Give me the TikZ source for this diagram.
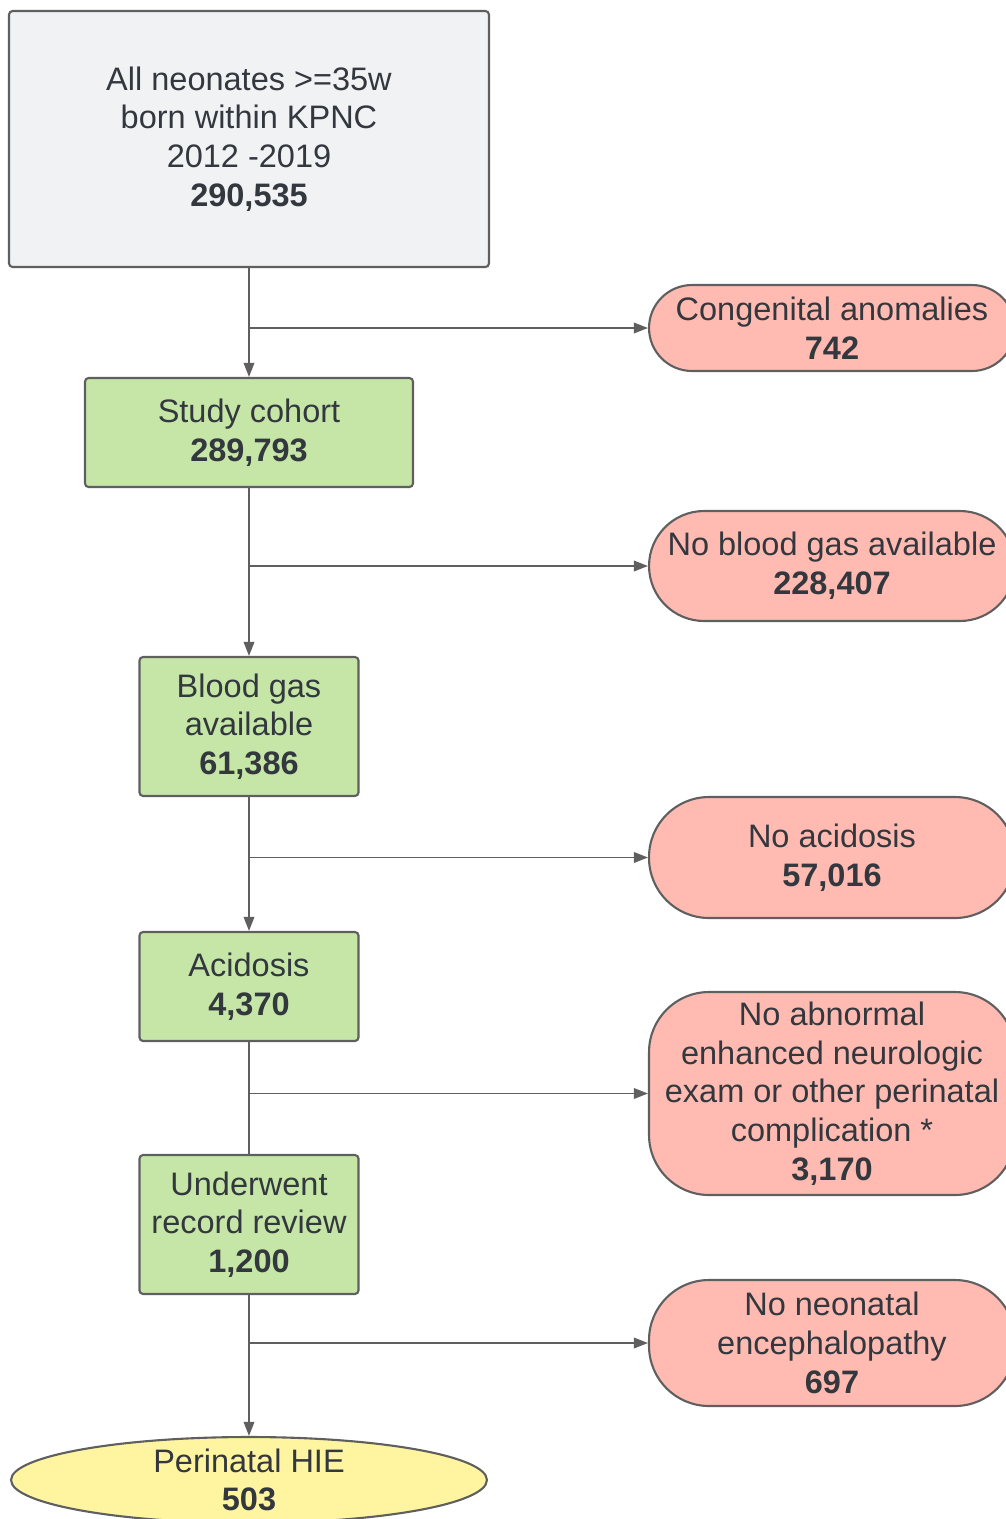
\documentclass[tikz,border=0pt]{standalone}
\usepackage{fontspec}
\setmainfont{Liberation Sans}
\usepackage{tikz}
\usepackage{xcolor}
\definecolor{boxgray}{RGB}{241,242,244}
\definecolor{boxgreen}{RGB}{197,230,166}
\definecolor{boxpink}{RGB}{255,187,177}
\definecolor{boxyellow}{RGB}{255,245,160}
\definecolor{edgegray}{RGB}{95,95,95}
\definecolor{textdark}{RGB}{51,56,62}
\usetikzlibrary{shapes.geometric,arrows.meta}

\tikzset{
	txt/.style={
		font=\fontsize{18.5}{22}\selectfont, % Lucid-like text size
		text=textdark,         % dark text
		align=center
	},
	stagebox/.style={
		txt,
		draw=edgegray,         % gray border
		line width=1.2pt,
		rectangle,
		rounded corners=2pt,   % slight rounding
		inner sep=2pt
	},
	excludebox/.style={
		txt,
		draw=edgegray,
		line width=1.2pt,
		fill=boxpink,          % pink fill
		rectangle,
		minimum width=7.32cm,
		inner sep=2pt
	},
	flow/.style={
		draw=edgegray,
		line width=1pt,
		-{Triangle[length=8pt,width=6pt]}
	}
}

\begin{document}
\begin{tikzpicture}[x=0.02cm,y=-0.02cm]
	\useasboundingbox (0,0) rectangle (1006,1519);
	\clip (0,0) rectangle (1006,1519);

	% main column
	\node[stagebox, fill=boxgray, minimum width=9.6cm, minimum height=5.12cm]
		(all) at (249,139) {All neonates >=35w\\born within KPNC\\2012 -2019\\\textbf{290,535}};
	\node[stagebox, fill=boxgreen, minimum width=6.56cm, minimum height=2.18cm]
		(cohort) at (249,432.5) {Study cohort\\\textbf{289,793}};
	\node[stagebox, fill=boxgreen, minimum width=4.38cm, minimum height=2.78cm]
		(gas) at (249,726.5) {Blood gas\\available\\\textbf{61,386}};
	\node[stagebox, fill=boxgreen, minimum width=4.38cm, minimum height=2.18cm]
		(acid) at (249,986.5) {Acidosis\\\textbf{4,370}};
	\node[stagebox, fill=boxgreen, minimum width=4.38cm, minimum height=2.78cm]
		(review) at (249,1224.5) {Underwent\\record review\\\textbf{1,200}};
	\node[
	draw=edgegray,
	line width=1.2pt,
	fill=boxyellow,        % yellow fill
	ellipse,
	inner sep=0pt,
	minimum width=9.52cm,
	minimum height=1.72cm,
	label={[txt]center:{Perinatal HIE\\\textbf{503}}}
	] (hie) at (249,1480) {};

	% excluded on the right
	\node[excludebox, minimum height=1.72cm, rounded corners=0.86cm]
		(anom) at (832,328) {Congenital anomalies\\\textbf{742}};
	\node[excludebox, minimum height=2.2cm, rounded corners=1.1cm]
		(nogas) at (832,566) {No blood gas available\\\textbf{228,407}};
	\node[excludebox, minimum height=2.42cm, rounded corners=1.2cm]
		(noacid) at (832,857.5) {No acidosis\\\textbf{57,016}};
	\node[excludebox, minimum height=4.06cm, rounded corners=1.2cm]
		(noexam) at (832,1093.5) {No abnormal\\enhanced neurologic\\exam or other perinatal\\complication *\\\textbf{3,170}};
	\node[excludebox, minimum height=2.52cm, rounded corners=1.2cm]
		(noenc) at (832,1343) {No neonatal\\encephalopathy\\\textbf{697}};

	% connectors
	\draw[flow] (all.south) -- (cohort.north);
	\draw[flow] (cohort.south) -- (gas.north);
	\draw[flow] (gas.south) -- (acid.north);
	\draw[draw=edgegray, line width=1pt] (acid.south) -- (review.north);
	\draw[flow] (review.south) -- (hie.north);

	\draw[flow] (all.south |- anom.west) -- (anom.west);
	\draw[flow] (cohort.south |- nogas.west) -- (nogas.west);
	\draw[flow] (gas.south |- noacid.west) -- (noacid.west);
	\draw[flow] (acid.south |- noexam.west) -- (noexam.west);
	\draw[flow] (review.south |- noenc.west) -- (noenc.west);
\end{tikzpicture}
\end{document}
